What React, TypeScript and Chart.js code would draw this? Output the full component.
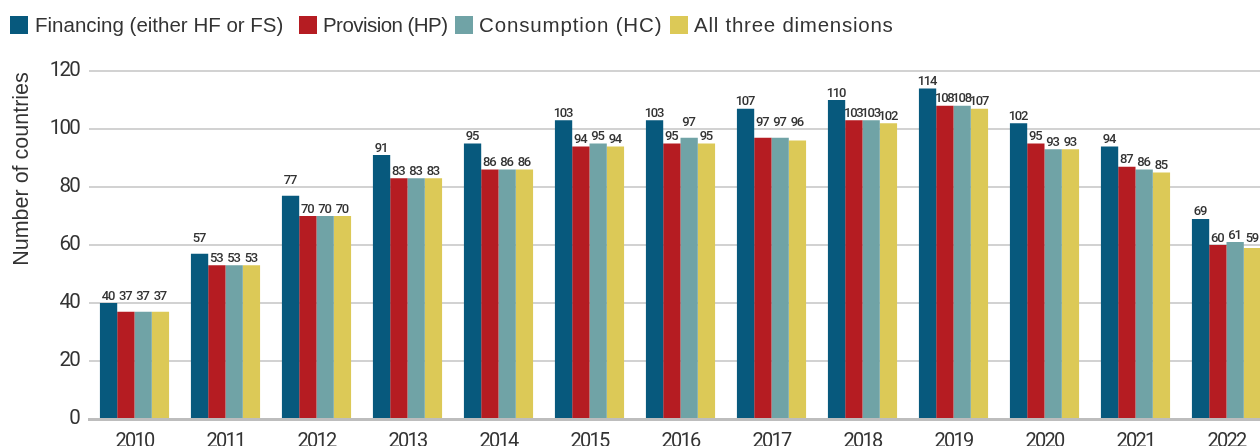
import React, { useEffect, useRef } from "react";
import { Chart, registerables } from "chart.js";

Chart.register(...registerables);

// Reporting years
const years = [
  "2010", "2011", "2012", "2013", "2014", "2015", "2016",
  "2017", "2018", "2019", "2020", "2021", "2022",
];

// Number of countries reporting each dimension
const financing = [40, 57, 77, 91, 95, 103, 103, 107, 110, 114, 102, 94, 69];
const provision = [37, 53, 70, 83, 86, 94, 95, 97, 103, 108, 95, 87, 60];
const consumption = [37, 53, 70, 83, 86, 95, 97, 97, 103, 108, 93, 86, 61];
const allThree = [37, 53, 70, 83, 86, 94, 95, 96, 102, 107, 93, 85, 59];

const seriesNames = [
  "Financing (either HF or FS)",
  "Provision (HP)",
  "Consumption (HC)",
  "All three dimensions",
];
const seriesValues = [financing, provision, consumption, allThree];
const seriesColors = ["#07597d", "#b51c22", "#70a3a6", "#dcc957"];

const yTicks = [0, 20, 40, 60, 80, 100, 120];
const yTitle = "Number of countries";

const NUM_FONT = "Roboto, 'Liberation Sans', sans-serif";
const TEXT_FONT = "'Liberation Sans', Arial, sans-serif";
const TEXT_COLOR = "#333333";

// Legend item offsets (box left, text left) and tracking per label
const legendSlots = [
  [10, 35, 0],
  [299, 323, -0.55],
  [455, 479, 0.85],
  [670, 694, 0.75],
];

// Tighter tracking for the numeric axis labels
const condensedTicks = {
  id: "condensedTicks",
  beforeDraw(chart: any) {
    chart.ctx.letterSpacing = "-1.8px";
  },
  afterDraw(chart: any) {
    chart.ctx.letterSpacing = "0px";
  },
};

// Rotated y-axis title, placed toward the upper part of the axis
const yTitlePlugin = {
  id: "yTitle",
  afterDraw(chart: any) {
    const { ctx, chartArea } = chart;
    ctx.save();
    ctx.letterSpacing = "0px";
    ctx.translate(22, chartArea.top + 98);
    ctx.rotate(-Math.PI / 2);
    ctx.font = `21.5px ${TEXT_FONT}`;
    ctx.fillStyle = TEXT_COLOR;
    ctx.textAlign = "center";
    ctx.textBaseline = "middle";
    ctx.fillText(yTitle, 0, 0);
    ctx.restore();
  },
};

// Value labels above each bar; a label that would sit on a gridline is lifted above it
const valueLabelPlugin = {
  id: "valueLabels",
  afterDatasetsDraw(chart: any) {
    const { ctx } = chart;
    const yScale = chart.scales.y;
    const gridYs = yTicks.map((v) => yScale.getPixelForValue(v));
    ctx.save();
    ctx.letterSpacing = "-1.2px";
    ctx.font = `500 13px ${NUM_FONT}`;
    ctx.fillStyle = TEXT_COLOR;
    ctx.textAlign = "center";
    ctx.textBaseline = "alphabetic";
    chart.data.datasets.forEach((ds: any, di: number) => {
      const meta = chart.getDatasetMeta(di);
      meta.data.forEach((bar: any, i: number) => {
        let base = bar.y - 3.5;
        const top = base - 9.5;
        for (const gy of gridYs) {
          if (gy >= top - 1 && gy <= base + 2) base = gy - 3;
        }
        ctx.fillText(String(ds.data[i]), bar.x - 0.6, base);
      });
    });
    ctx.restore();
  },
};

export default function App() {
  const canvasRef = useRef<HTMLCanvasElement | null>(null);

  useEffect(() => {
    const canvas = canvasRef.current;
    if (!canvas) return;
    const chart = new Chart(canvas, {
      type: "bar",
      data: {
        labels: years,
        datasets: seriesNames.map((name, k) => ({
          label: name,
          data: seriesValues[k],
          backgroundColor: seriesColors[k],
          borderWidth: 0,
          barPercentage: 1,
          categoryPercentage: 0.76,
        })),
      },
      options: {
        responsive: false,
        animation: false,
        layout: { padding: { top: 71, left: 0, right: 0, bottom: 0 } },
        plugins: {
          legend: { display: false },
          tooltip: { enabled: false },
        },
        scales: {
          x: {
            grid: { display: false },
            border: { display: true, color: "#bdbdbd", width: 3 },
            ticks: {
              color: TEXT_COLOR,
              font: { family: NUM_FONT, size: 20 },
              padding: 3,
              maxRotation: 0,
              autoSkip: false,
            },
            afterFit(scale: any) {
              scale.height = 51;
            },
          },
          y: {
            min: 0,
            max: 120,
            ticks: {
              stepSize: 20,
              color: TEXT_COLOR,
              font: { family: NUM_FONT, size: 20.5 },
              padding: 10,
            },
            grid: {
              color: (c: any) =>
                c.tick && c.tick.value === 0 ? "rgba(0,0,0,0)" : "#d2d2d2",
              lineWidth: 2,
              drawTicks: false,
            },
            border: { display: false },
            afterFit(scale: any) {
              scale.width = 89;
            },
          },
        },
      },
      plugins: [condensedTicks, valueLabelPlugin, yTitlePlugin],
    });
    return () => chart.destroy();
  }, []);

  return (
    <div
      style={{
        position: "fixed",
        left: 0,
        top: 0,
        width: 1260,
        height: 446,
        overflow: "hidden",
        background: "#ffffff",
      }}
    >
      <canvas
        ref={canvasRef}
        width={1272}
        height={470}
        style={{ display: "block", position: "absolute", left: 0, top: 0 }}
      />
      {seriesNames.map((name, k) => (
        <div key={name}>
          <div
            style={{
              position: "absolute",
              left: legendSlots[k][0],
              top: 16,
              width: 18,
              height: 18,
              background: seriesColors[k],
            }}
          />
          <div
            style={{
              position: "absolute",
              left: legendSlots[k][1],
              top: 11,
              fontFamily: TEXT_FONT,
              fontSize: 20.5,
              lineHeight: "28px",
              letterSpacing: legendSlots[k][2],
              color: TEXT_COLOR,
              whiteSpace: "nowrap",
            }}
          >
            {name}
          </div>
        </div>
      ))}
    </div>
  );
}
